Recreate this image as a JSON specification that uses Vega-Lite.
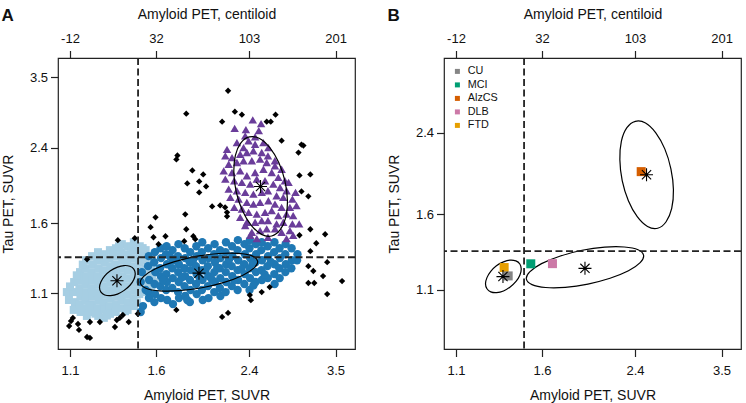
{
  "$schema": "https://vega.github.io/schema/vega-lite/v6.json",
  "padding": {"left": 0, "top": 5, "right": 0, "bottom": 0},
  "config": {
    "font": "Liberation Sans",
    "view": {"stroke": "#222", "strokeWidth": 1.2},
    "axis": {"labelFont": "Liberation Sans", "titleFont": "Liberation Sans", "labelFontSize": 13, "titleFontSize": 14, "labelColor": "#111", "titleColor": "#111", "tickColor": "#222", "tickSize": 7.5, "tickWidth": 1.2, "domain": false, "grid": false, "titleFontWeight": "normal", "labelFlush": false},
    "concat": {"spacing": 29}
  },
  "datasets": {
    "pts": [
      {"g":"L","x":1.085,"y":1.106},{"g":"L","x":1.095,"y":1.060},
      {"g":"L","x":1.120,"y":1.167},{"g":"L","x":1.115,"y":1.106},{"g":"L","x":1.124,"y":1.048},{"g":"L","x":1.118,"y":1.005},
      {"g":"L","x":1.149,"y":1.231},{"g":"L","x":1.153,"y":1.180},{"g":"L","x":1.146,"y":1.130},{"g":"L","x":1.151,"y":1.083},{"g":"L","x":1.147,"y":1.037},{"g":"L","x":1.152,"y":0.994},
      {"g":"L","x":1.180,"y":1.312},{"g":"L","x":1.176,"y":1.257},{"g":"L","x":1.183,"y":1.205},{"g":"L","x":1.178,"y":1.155},{"g":"L","x":1.182,"y":1.106},{"g":"L","x":1.177,"y":1.060},{"g":"L","x":1.181,"y":1.015},{"g":"L","x":1.184,"y":0.973},
      {"g":"L","x":1.211,"y":1.341},{"g":"L","x":1.215,"y":1.284},{"g":"L","x":1.208,"y":1.231},{"g":"L","x":1.213,"y":1.180},{"g":"L","x":1.209,"y":1.130},{"g":"L","x":1.214,"y":1.083},{"g":"L","x":1.210,"y":1.037},{"g":"L","x":1.206,"y":0.994},
      {"g":"L","x":1.243,"y":1.370},{"g":"L","x":1.239,"y":1.312},{"g":"L","x":1.246,"y":1.257},{"g":"L","x":1.241,"y":1.205},{"g":"L","x":1.245,"y":1.155},{"g":"L","x":1.240,"y":1.106},{"g":"L","x":1.247,"y":1.060},{"g":"L","x":1.242,"y":1.015},{"g":"L","x":1.244,"y":0.973},
      {"g":"L","x":1.276,"y":1.355},{"g":"L","x":1.280,"y":1.298},{"g":"L","x":1.272,"y":1.244},{"g":"L","x":1.278,"y":1.192},{"g":"L","x":1.274,"y":1.142},{"g":"L","x":1.279,"y":1.094},{"g":"L","x":1.273,"y":1.048},{"g":"L","x":1.277,"y":1.005},{"g":"L","x":1.275,"y":0.963},
      {"g":"L","x":1.309,"y":1.385},{"g":"L","x":1.305,"y":1.327},{"g":"L","x":1.312,"y":1.271},{"g":"L","x":1.307,"y":1.218},{"g":"L","x":1.311,"y":1.167},{"g":"L","x":1.306,"y":1.118},{"g":"L","x":1.313,"y":1.071},{"g":"L","x":1.308,"y":1.026},{"g":"L","x":1.310,"y":0.984},
      {"g":"L","x":1.344,"y":1.399},{"g":"L","x":1.348,"y":1.341},{"g":"L","x":1.340,"y":1.284},{"g":"L","x":1.346,"y":1.231},{"g":"L","x":1.342,"y":1.180},{"g":"L","x":1.347,"y":1.130},{"g":"L","x":1.341,"y":1.083},{"g":"L","x":1.345,"y":1.037},{"g":"L","x":1.343,"y":0.994},
      {"g":"L","x":1.379,"y":1.430},{"g":"L","x":1.375,"y":1.370},{"g":"L","x":1.382,"y":1.312},{"g":"L","x":1.377,"y":1.257},{"g":"L","x":1.381,"y":1.205},{"g":"L","x":1.376,"y":1.155},{"g":"L","x":1.383,"y":1.106},{"g":"L","x":1.378,"y":1.060},{"g":"L","x":1.380,"y":1.015},
      {"g":"L","x":1.415,"y":1.414},{"g":"L","x":1.419,"y":1.355},{"g":"L","x":1.411,"y":1.298},{"g":"L","x":1.417,"y":1.244},{"g":"L","x":1.413,"y":1.192},{"g":"L","x":1.418,"y":1.142},{"g":"L","x":1.412,"y":1.094},{"g":"L","x":1.416,"y":1.048},{"g":"L","x":1.414,"y":1.005},
      {"g":"L","x":1.453,"y":1.445},{"g":"L","x":1.449,"y":1.385},{"g":"L","x":1.456,"y":1.327},{"g":"L","x":1.451,"y":1.271},{"g":"L","x":1.455,"y":1.218},{"g":"L","x":1.450,"y":1.167},{"g":"L","x":1.457,"y":1.118},{"g":"L","x":1.452,"y":1.071},{"g":"L","x":1.454,"y":1.026},
      {"g":"L","x":1.491,"y":1.414},{"g":"L","x":1.495,"y":1.355},{"g":"L","x":1.487,"y":1.298},{"g":"L","x":1.493,"y":1.244},{"g":"L","x":1.489,"y":1.192},{"g":"L","x":1.494,"y":1.142},{"g":"L","x":1.488,"y":1.094},
      {"g":"L","x":1.530,"y":1.385},{"g":"L","x":1.526,"y":1.312},{"g":"L","x":1.533,"y":1.257},{"g":"L","x":1.528,"y":1.205},{"g":"L","x":1.532,"y":1.155},{"g":"L","x":1.527,"y":1.106},
      {"g":"L","x":1.571,"y":1.284},{"g":"L","x":1.567,"y":1.231},{"g":"L","x":1.574,"y":1.180},{"g":"L","x":1.569,"y":1.130},
      {"g":"L","x":1.611,"y":1.244},{"g":"L","x":1.607,"y":1.167},
      {"g":"L","x":1.163,"y":1.282},{"g":"L","x":1.196,"y":1.028},{"g":"L","x":1.229,"y":0.985},{"g":"L","x":1.262,"y":1.330},{"g":"L","x":1.292,"y":0.975},{"g":"L","x":1.327,"y":1.361},{"g":"L","x":1.362,"y":1.413},{"g":"L","x":1.398,"y":0.998},{"g":"L","x":1.436,"y":1.410},{"g":"L","x":1.472,"y":1.046},{"g":"L","x":1.510,"y":1.400},{"g":"L","x":1.548,"y":1.340},{"g":"L","x":1.100,"y":1.140},{"g":"L","x":1.133,"y":1.210},

      {"g":"M","x":1.497,"y":0.994},{"g":"M","x":1.512,"y":1.026},{"g":"M","x":1.505,"y":1.231},{"g":"M","x":1.497,"y":1.167},{"g":"M","x":1.530,"y":1.118},
      {"g":"M","x":1.550,"y":1.341},{"g":"M","x":1.546,"y":1.271},{"g":"M","x":1.553,"y":1.180},{"g":"M","x":1.548,"y":1.106},{"g":"M","x":1.552,"y":1.071},
      {"g":"M","x":1.592,"y":1.370},{"g":"M","x":1.588,"y":1.298},{"g":"M","x":1.595,"y":1.231},{"g":"M","x":1.590,"y":1.155},{"g":"M","x":1.594,"y":1.094},{"g":"M","x":1.589,"y":1.048},
      {"g":"M","x":1.632,"y":1.399},{"g":"M","x":1.636,"y":1.327},{"g":"M","x":1.629,"y":1.257},{"g":"M","x":1.634,"y":1.205},{"g":"M","x":1.630,"y":1.142},{"g":"M","x":1.635,"y":1.071},
      {"g":"M","x":1.676,"y":1.414},{"g":"M","x":1.672,"y":1.355},{"g":"M","x":1.679,"y":1.284},{"g":"M","x":1.674,"y":1.218},{"g":"M","x":1.678,"y":1.167},{"g":"M","x":1.673,"y":1.118},{"g":"M","x":1.680,"y":1.060},
      {"g":"M","x":1.720,"y":1.385},{"g":"M","x":1.724,"y":1.312},{"g":"M","x":1.717,"y":1.257},{"g":"M","x":1.722,"y":1.192},{"g":"M","x":1.718,"y":1.130},{"g":"M","x":1.723,"y":1.037},
      {"g":"M","x":1.765,"y":1.430},{"g":"M","x":1.761,"y":1.341},{"g":"M","x":1.768,"y":1.284},{"g":"M","x":1.763,"y":1.231},{"g":"M","x":1.767,"y":1.167},{"g":"M","x":1.762,"y":1.106},{"g":"M","x":1.769,"y":1.071},
      {"g":"M","x":1.814,"y":1.399},{"g":"M","x":1.818,"y":1.327},{"g":"M","x":1.811,"y":1.257},{"g":"M","x":1.816,"y":1.205},{"g":"M","x":1.812,"y":1.142},{"g":"M","x":1.817,"y":1.083},
      {"g":"M","x":1.858,"y":1.370},{"g":"M","x":1.854,"y":1.298},{"g":"M","x":1.861,"y":1.244},{"g":"M","x":1.856,"y":1.180},{"g":"M","x":1.860,"y":1.118},{"g":"M","x":1.855,"y":1.048},
      {"g":"M","x":1.908,"y":1.414},{"g":"M","x":1.912,"y":1.341},{"g":"M","x":1.905,"y":1.271},{"g":"M","x":1.910,"y":1.218},{"g":"M","x":1.906,"y":1.155},{"g":"M","x":1.911,"y":1.094},
      {"g":"M","x":1.958,"y":1.445},{"g":"M","x":1.954,"y":1.370},{"g":"M","x":1.961,"y":1.312},{"g":"M","x":1.956,"y":1.244},{"g":"M","x":1.960,"y":1.180},{"g":"M","x":1.955,"y":1.118},{"g":"M","x":1.962,"y":1.060},
      {"g":"M","x":2.009,"y":1.399},{"g":"M","x":2.013,"y":1.327},{"g":"M","x":2.006,"y":1.271},{"g":"M","x":2.011,"y":1.205},{"g":"M","x":2.007,"y":1.142},{"g":"M","x":2.012,"y":1.071},
      {"g":"M","x":2.066,"y":1.430},{"g":"M","x":2.062,"y":1.355},{"g":"M","x":2.069,"y":1.298},{"g":"M","x":2.064,"y":1.231},{"g":"M","x":2.068,"y":1.167},{"g":"M","x":2.063,"y":1.106},
      {"g":"M","x":2.116,"y":1.385},{"g":"M","x":2.120,"y":1.327},{"g":"M","x":2.113,"y":1.257},{"g":"M","x":2.118,"y":1.192},{"g":"M","x":2.114,"y":1.130},{"g":"M","x":2.119,"y":1.083},
      {"g":"M","x":2.171,"y":1.445},{"g":"M","x":2.167,"y":1.370},{"g":"M","x":2.174,"y":1.284},{"g":"M","x":2.169,"y":1.231},{"g":"M","x":2.173,"y":1.167},{"g":"M","x":2.168,"y":1.106},
      {"g":"M","x":2.229,"y":1.414},{"g":"M","x":2.233,"y":1.341},{"g":"M","x":2.226,"y":1.271},{"g":"M","x":2.231,"y":1.205},{"g":"M","x":2.227,"y":1.142},
      {"g":"M","x":2.287,"y":1.461},{"g":"M","x":2.283,"y":1.385},{"g":"M","x":2.290,"y":1.312},{"g":"M","x":2.285,"y":1.244},{"g":"M","x":2.289,"y":1.180},{"g":"M","x":2.284,"y":1.118},
      {"g":"M","x":2.354,"y":1.430},{"g":"M","x":2.358,"y":1.355},{"g":"M","x":2.351,"y":1.284},{"g":"M","x":2.356,"y":1.218},{"g":"M","x":2.352,"y":1.155},
      {"g":"M","x":2.409,"y":1.461},{"g":"M","x":2.405,"y":1.399},{"g":"M","x":2.412,"y":1.327},{"g":"M","x":2.407,"y":1.257},{"g":"M","x":2.411,"y":1.192},{"g":"M","x":2.406,"y":1.118},
      {"g":"M","x":2.472,"y":1.430},{"g":"M","x":2.476,"y":1.355},{"g":"M","x":2.469,"y":1.298},{"g":"M","x":2.474,"y":1.231},{"g":"M","x":2.470,"y":1.167},
      {"g":"M","x":2.537,"y":1.445},{"g":"M","x":2.533,"y":1.385},{"g":"M","x":2.540,"y":1.312},{"g":"M","x":2.535,"y":1.244},{"g":"M","x":2.539,"y":1.180},
      {"g":"M","x":2.604,"y":1.414},{"g":"M","x":2.608,"y":1.341},{"g":"M","x":2.601,"y":1.271},{"g":"M","x":2.606,"y":1.192},
      {"g":"M","x":2.682,"y":1.445},{"g":"M","x":2.678,"y":1.370},{"g":"M","x":2.685,"y":1.284},{"g":"M","x":2.680,"y":1.218},{"g":"M","x":2.684,"y":1.155},
      {"g":"M","x":2.742,"y":1.399},{"g":"M","x":2.746,"y":1.327},{"g":"M","x":2.739,"y":1.257},{"g":"M","x":2.744,"y":1.192},
      {"g":"M","x":2.815,"y":1.430},{"g":"M","x":2.811,"y":1.355},{"g":"M","x":2.818,"y":1.284},{"g":"M","x":2.813,"y":1.231},
      {"g":"M","x":2.890,"y":1.399},{"g":"M","x":2.894,"y":1.312},{"g":"M","x":2.887,"y":1.257},
      {"g":"M","x":2.965,"y":1.355},{"g":"M","x":2.960,"y":1.312},
      {"g":"M","x":2.447,"y":1.146},{"g":"M","x":1.834,"y":1.060},
      {"g":"M","x":1.700,"y":1.340},{"g":"M","x":1.790,"y":1.195},{"g":"M","x":1.880,"y":1.312},{"g":"M","x":1.985,"y":1.240},{"g":"M","x":2.090,"y":1.260},{"g":"M","x":2.200,"y":1.315},{"g":"M","x":2.320,"y":1.250},{"g":"M","x":2.440,"y":1.290},{"g":"M","x":2.570,"y":1.215},{"g":"M","x":2.640,"y":1.300},{"g":"M","x":2.040,"y":1.185},{"g":"M","x":1.935,"y":1.195},{"g":"M","x":1.650,"y":1.180},{"g":"M","x":2.250,"y":1.180},

      {"g":"P","x":2.255,"y":2.661},{"g":"P","x":2.440,"y":2.784},{"g":"P","x":2.530,"y":2.728},{"g":"P","x":2.361,"y":2.555},{"g":"P","x":2.465,"y":2.541},
      {"g":"P","x":2.277,"y":2.465},{"g":"P","x":2.181,"y":2.378},{"g":"P","x":2.344,"y":2.400},{"g":"P","x":2.396,"y":2.487},{"g":"P","x":2.465,"y":2.443},
      {"g":"P","x":2.556,"y":2.465},{"g":"P","x":2.612,"y":2.400},{"g":"P","x":2.165,"y":2.296},{"g":"P","x":2.229,"y":2.275},{"g":"P","x":2.310,"y":2.316},
      {"g":"P","x":2.378,"y":2.337},{"g":"P","x":2.447,"y":2.359},{"g":"P","x":2.537,"y":2.337},{"g":"P","x":2.607,"y":2.296},{"g":"P","x":2.687,"y":2.236},
      {"g":"P","x":2.197,"y":2.195},{"g":"P","x":2.277,"y":2.215},{"g":"P","x":2.344,"y":2.236},{"g":"P","x":2.430,"y":2.236},{"g":"P","x":2.519,"y":2.256},
      {"g":"P","x":2.593,"y":2.215},{"g":"P","x":2.688,"y":2.176},{"g":"P","x":2.767,"y":2.137},{"g":"P","x":2.150,"y":2.118},{"g":"P","x":2.229,"y":2.100},
      {"g":"P","x":2.310,"y":2.118},{"g":"P","x":2.378,"y":2.064},{"g":"P","x":2.465,"y":2.100},{"g":"P","x":2.556,"y":2.137},{"g":"P","x":2.650,"y":2.100},
      {"g":"P","x":2.727,"y":2.045},{"g":"P","x":2.807,"y":2.009},{"g":"P","x":2.165,"y":2.027},{"g":"P","x":2.251,"y":2.009},{"g":"P","x":2.327,"y":1.991},
      {"g":"P","x":2.413,"y":1.973},{"g":"P","x":2.483,"y":2.027},{"g":"P","x":2.574,"y":2.009},{"g":"P","x":2.669,"y":1.973},{"g":"P","x":2.748,"y":1.938},
      {"g":"P","x":2.827,"y":1.904},{"g":"P","x":2.197,"y":1.921},{"g":"P","x":2.277,"y":1.904},{"g":"P","x":2.361,"y":1.887},{"g":"P","x":2.447,"y":1.870},
      {"g":"P","x":2.537,"y":1.887},{"g":"P","x":2.607,"y":1.904},{"g":"P","x":2.707,"y":1.854},{"g":"P","x":2.787,"y":1.838},{"g":"P","x":2.900,"y":1.821},
      {"g":"P","x":2.213,"y":1.838},{"g":"P","x":2.294,"y":1.821},{"g":"P","x":2.378,"y":1.789},{"g":"P","x":2.447,"y":1.773},{"g":"P","x":2.519,"y":1.789},
      {"g":"P","x":2.612,"y":1.805},{"g":"P","x":2.688,"y":1.773},{"g":"P","x":2.767,"y":1.742},{"g":"P","x":2.869,"y":1.742},{"g":"P","x":2.952,"y":1.758},
      {"g":"P","x":2.251,"y":1.742},{"g":"P","x":2.327,"y":1.727},{"g":"P","x":2.396,"y":1.696},{"g":"P","x":2.483,"y":1.680},{"g":"P","x":2.574,"y":1.696},
      {"g":"P","x":2.650,"y":1.711},{"g":"P","x":2.727,"y":1.666},{"g":"P","x":2.827,"y":1.680},{"g":"P","x":2.910,"y":1.666},{"g":"P","x":2.310,"y":1.651},
      {"g":"P","x":2.378,"y":1.608},{"g":"P","x":2.465,"y":1.608},{"g":"P","x":2.537,"y":1.622},{"g":"P","x":2.607,"y":1.622},{"g":"P","x":2.707,"y":1.594},
      {"g":"P","x":2.787,"y":1.608},{"g":"P","x":2.900,"y":1.594},{"g":"P","x":2.987,"y":1.594},{"g":"P","x":2.361,"y":1.580},{"g":"P","x":2.430,"y":1.524},
      {"g":"P","x":2.519,"y":1.538},{"g":"P","x":2.593,"y":1.552},{"g":"P","x":2.688,"y":1.552},{"g":"P","x":2.767,"y":1.524},{"g":"P","x":2.869,"y":1.538},
      {"g":"P","x":2.910,"y":1.499},{"g":"P","x":2.413,"y":1.499},{"g":"P","x":2.483,"y":1.473},{"g":"P","x":2.607,"y":1.484},{"g":"P","x":2.827,"y":1.473},
      {"g":"P","x":2.505,"y":2.628},{"g":"P","x":2.368,"y":2.642},{"g":"P","x":2.852,"y":1.991},{"g":"P","x":2.940,"y":1.887},

      {"g":"O","x":2.191,"y":3.255},{"g":"O","x":1.826,"y":2.878},{"g":"O","x":2.257,"y":2.910},{"g":"O","x":2.327,"y":2.863},{"g":"O","x":2.135,"y":2.758},
      {"g":"O","x":2.593,"y":2.758},{"g":"O","x":2.639,"y":2.758},{"g":"O","x":2.695,"y":2.863},{"g":"O","x":2.767,"y":2.491},{"g":"O","x":3.017,"y":2.439},
      {"g":"O","x":3.043,"y":2.426},{"g":"O","x":2.978,"y":2.337},{"g":"O","x":1.757,"y":2.300},{"g":"O","x":1.749,"y":2.252},{"g":"O","x":1.875,"y":2.123},
      {"g":"O","x":1.966,"y":2.078},{"g":"O","x":1.834,"y":1.980},{"g":"O","x":1.932,"y":2.002},{"g":"O","x":1.991,"y":1.949},{"g":"O","x":1.932,"y":1.887},
      {"g":"O","x":2.991,"y":2.067},{"g":"O","x":3.136,"y":2.078},{"g":"O","x":3.017,"y":1.897},{"g":"O","x":3.109,"y":1.848},{"g":"O","x":2.044,"y":1.751},
      {"g":"O","x":2.117,"y":1.760},{"g":"O","x":2.163,"y":1.742},{"g":"O","x":2.181,"y":1.696},{"g":"O","x":2.181,"y":1.660},{"g":"O","x":1.597,"y":1.651},
      {"g":"O","x":1.563,"y":1.566},{"g":"O","x":1.583,"y":1.484},{"g":"O","x":1.618,"y":1.430},{"g":"O","x":1.668,"y":1.492},{"g":"O","x":1.818,"y":1.678},
      {"g":"O","x":1.826,"y":1.549},{"g":"O","x":1.810,"y":1.453},{"g":"O","x":1.883,"y":1.492},{"g":"O","x":1.899,"y":1.469},{"g":"O","x":1.459,"y":1.476},
      {"g":"O","x":1.355,"y":1.461},{"g":"O","x":1.185,"y":1.319},{"g":"O","x":1.749,"y":1.005},{"g":"O","x":2.135,"y":0.968},{"g":"O","x":2.191,"y":0.989},
      {"g":"O","x":2.409,"y":1.088},{"g":"O","x":2.420,"y":1.059},{"g":"O","x":2.537,"y":1.106},{"g":"O","x":2.627,"y":1.136},{"g":"O","x":2.991,"y":1.500},
      {"g":"O","x":3.136,"y":1.549},{"g":"O","x":3.345,"y":1.508},{"g":"O","x":3.218,"y":1.437},{"g":"O","x":3.136,"y":1.377},{"g":"O","x":3.375,"y":1.298},
      {"g":"O","x":3.109,"y":1.271},{"g":"O","x":3.177,"y":1.238},{"g":"O","x":3.315,"y":1.205},{"g":"O","x":3.109,"y":1.161},{"g":"O","x":3.190,"y":1.161},
      {"g":"O","x":3.601,"y":1.173},{"g":"O","x":3.375,"y":1.094},{"g":"O","x":1.478,"y":0.984},{"g":"O","x":1.421,"y":0.942},{"g":"O","x":1.385,"y":0.978},
      {"g":"O","x":1.367,"y":0.963},{"g":"O","x":1.349,"y":0.952},{"g":"O","x":1.338,"y":0.917},{"g":"O","x":1.253,"y":0.942},{"g":"O","x":1.200,"y":0.942},
      {"g":"O","x":1.139,"y":0.932},{"g":"O","x":1.144,"y":0.903},{"g":"O","x":1.114,"y":0.963},{"g":"O","x":1.105,"y":0.947},{"g":"O","x":1.096,"y":0.922},
      {"g":"O","x":1.185,"y":0.869},{"g":"O","x":1.200,"y":0.865}
    ],
    "ell": [
      {"e":"L","i":0,"x":1.453,"y":1.251},{"e":"L","i":1,"x":1.462,"y":1.220},{"e":"L","i":2,"x":1.453,"y":1.183},{"e":"L","i":3,"x":1.429,"y":1.147},
      {"e":"L","i":4,"x":1.393,"y":1.116},{"e":"L","i":5,"x":1.353,"y":1.094},{"e":"L","i":6,"x":1.313,"y":1.085},{"e":"L","i":7,"x":1.280,"y":1.089},
      {"e":"L","i":8,"x":1.259,"y":1.106},{"e":"L","i":9,"x":1.251,"y":1.134},{"e":"L","i":10,"x":1.259,"y":1.169},{"e":"L","i":11,"x":1.280,"y":1.206},
      {"e":"L","i":12,"x":1.312,"y":1.240},{"e":"L","i":13,"x":1.353,"y":1.264},{"e":"L","i":14,"x":1.392,"y":1.275},{"e":"L","i":15,"x":1.428,"y":1.270},
      {"e":"M","i":0,"x":2.492,"y":1.305},{"e":"M","i":1,"x":2.455,"y":1.259},{"e":"M","i":2,"x":2.333,"y":1.209},{"e":"M","i":3,"x":2.153,"y":1.165},
      {"e":"M","i":4,"x":1.955,"y":1.132},{"e":"M","i":5,"x":1.771,"y":1.114},{"e":"M","i":6,"x":1.626,"y":1.113},{"e":"M","i":7,"x":1.532,"y":1.129},
      {"e":"M","i":8,"x":1.495,"y":1.161},{"e":"M","i":9,"x":1.517,"y":1.203},{"e":"M","i":10,"x":1.597,"y":1.253},{"e":"M","i":11,"x":1.729,"y":1.300},
      {"e":"M","i":12,"x":1.906,"y":1.339},{"e":"M","i":13,"x":2.104,"y":1.360},{"e":"M","i":14,"x":2.291,"y":1.361},{"e":"M","i":15,"x":2.432,"y":1.343},
      {"e":"P","i":0,"x":2.650,"y":1.494},{"e":"P","i":1,"x":2.749,"y":1.543},{"e":"P","i":2,"x":2.817,"y":1.648},{"e":"P","i":3,"x":2.838,"y":1.808},
      {"e":"P","i":4,"x":2.807,"y":2.007},{"e":"P","i":5,"x":2.733,"y":2.216},{"e":"P","i":6,"x":2.628,"y":2.400},{"e":"P","i":7,"x":2.513,"y":2.520},
      {"e":"P","i":8,"x":2.404,"y":2.541},{"e":"P","i":9,"x":2.317,"y":2.462},{"e":"P","i":10,"x":2.262,"y":2.303},{"e":"P","i":11,"x":2.247,"y":2.100},
      {"e":"P","i":12,"x":2.270,"y":1.892},{"e":"P","i":13,"x":2.332,"y":1.713},{"e":"P","i":14,"x":2.424,"y":1.582},{"e":"P","i":15,"x":2.535,"y":1.507}
    ],
    "stars": [
      {"e":"L","x":1.350,"y":1.175},{"e":"M","x":1.930,"y":1.224},{"e":"P","x":2.524,"y":1.948}
    ],
    "means": [
      {"grp":"FTD","x":1.357,"y":1.229},{"grp":"CU","x":1.381,"y":1.179},{"grp":"MCI","x":1.524,"y":1.252},{"grp":"DLB","x":1.675,"y":1.253},{"grp":"AlzCS","x":2.466,"y":1.979}
    ],
    "thr": [{"x":1.48,"y":1.333}]
  },
  "hconcat": [
    {
      "width": 297, "height": 291,
      "resolve": {"axis": {"x": "independent", "y": "shared"}},
      "layer": [
        {
          "data": {"name": "pts"},
          "transform": [{"filter": "datum.g == 'L'"}],
          "mark": {"type": "point", "shape": "square", "filled": true, "size": 64, "opacity": 1, "color": "#A6CEE3"},
          "encoding": {
            "x": {"field": "x", "type": "quantitative", "scale": {"type": "log", "domain": [1.044, 3.81], "nice": false},
                  "axis": {"orient": "bottom", "values": [1.1, 1.6, 2.4, 3.5], "format": ".1f", "title": "Amyloid PET, SUVR", "labelPadding": 8, "titleY": 50, "titleBaseline": "alphabetic"}},
            "y": {"field": "y", "type": "quantitative", "scale": {"type": "log", "domain": [0.815, 3.88], "nice": false},
                  "axis": {"orient": "left", "values": [1.1, 1.6, 2.4, 3.5], "format": ".1f", "title": "Tau PET, SUVR", "labelPadding": 3, "titleX": -43, "titleY": 145.5, "titleBaseline": "bottom"}}
          }
        },
        {
          "data": {"name": "pts"},
          "transform": [{"filter": "datum.g == 'M'"}],
          "mark": {"type": "point", "shape": "circle", "filled": true, "size": 70, "opacity": 1, "color": "#1F78B4"},
          "encoding": {
            "x": {"field": "x", "type": "quantitative", "scale": {"type": "log", "domain": [1.044, 3.81], "nice": false},
                  "axis": {"orient": "top", "values": [1.1, 1.6, 2.4, 3.5], "labelExpr": "datum.value < 1.3 ? '-12' : datum.value < 2 ? '32' : datum.value < 3 ? '103' : '201'", "title": "Amyloid PET, centiloid", "labelPadding": 5.5, "titleY": -39.5, "titleBaseline": "alphabetic"}},
            "y": {"field": "y", "type": "quantitative", "scale": {"type": "log", "domain": [0.815, 3.88], "nice": false},
                  "axis": {"orient": "left", "values": [1.1, 1.6, 2.4, 3.5], "format": ".1f", "title": "Tau PET, SUVR", "labelPadding": 3, "titleX": -43, "titleY": 145.5, "titleBaseline": "bottom"}}
          }
        },
        {
          "data": {"name": "pts"},
          "transform": [{"filter": "datum.g == 'P'"}],
          "mark": {"type": "point", "shape": "triangle-up", "filled": true, "size": 72, "opacity": 1, "color": "#6A3D9A"},
          "encoding": {
            "x": {"field": "x", "type": "quantitative", "scale": {"type": "log", "domain": [1.044, 3.81], "nice": false},
                  "axis": {"orient": "top", "values": [], "ticks": false, "labels": false, "title": "A", "titleX": -57, "titleY": -38, "titleAlign": "left", "titleBaseline": "alphabetic", "titleFontSize": 17, "titleFontWeight": "bold", "titleAngle": 0}},
            "y": {"field": "y", "type": "quantitative", "scale": {"type": "log", "domain": [0.815, 3.88], "nice": false},
                  "axis": {"orient": "left", "values": [1.1, 1.6, 2.4, 3.5], "format": ".1f", "title": "Tau PET, SUVR", "labelPadding": 3, "titleX": -43, "titleY": 145.5, "titleBaseline": "bottom"}}
          }
        },
        {
          "data": {"name": "pts"},
          "transform": [{"filter": "datum.g == 'O'"}],
          "mark": {"type": "point", "shape": "diamond", "filled": true, "size": 40, "opacity": 1, "color": "#000000"},
          "encoding": {
            "x": {"field": "x", "type": "quantitative", "scale": {"type": "log", "domain": [1.044, 3.81], "nice": false}, "axis": null},
            "y": {"field": "y", "type": "quantitative", "scale": {"type": "log", "domain": [0.815, 3.88], "nice": false},
                  "axis": {"orient": "left", "values": [1.1, 1.6, 2.4, 3.5], "format": ".1f", "title": "Tau PET, SUVR", "labelPadding": 3, "titleX": -43, "titleY": 145.5, "titleBaseline": "bottom"}}
          }
        },
        {
          "data": {"name": "ell"},
          "mark": {"type": "line", "interpolate": "cardinal-closed", "color": "#000000", "strokeWidth": 1.2},
          "encoding": {
            "x": {"field": "x", "type": "quantitative", "scale": {"type": "log", "domain": [1.044, 3.81], "nice": false}, "axis": null},
            "y": {"field": "y", "type": "quantitative", "scale": {"type": "log", "domain": [0.815, 3.88], "nice": false},
                  "axis": {"orient": "left", "values": [1.1, 1.6, 2.4, 3.5], "format": ".1f", "title": "Tau PET, SUVR", "labelPadding": 3, "titleX": -43, "titleY": 145.5, "titleBaseline": "bottom"}},
            "detail": {"field": "e"},
            "order": {"field": "i", "type": "quantitative"}
          }
        },
        {
          "data": {"name": "stars"},
          "mark": {"type": "point", "shape": "M-1,0L1,0M0,-1L0,1M-0.71,-0.71L0.71,0.71M-0.71,0.71L0.71,-0.71", "filled": false, "size": 169, "opacity": 1, "color": "#000000", "strokeWidth": 1.1},
          "encoding": {
            "x": {"field": "x", "type": "quantitative", "scale": {"type": "log", "domain": [1.044, 3.81], "nice": false}, "axis": null},
            "y": {"field": "y", "type": "quantitative", "scale": {"type": "log", "domain": [0.815, 3.88], "nice": false},
                  "axis": {"orient": "left", "values": [1.1, 1.6, 2.4, 3.5], "format": ".1f", "title": "Tau PET, SUVR", "labelPadding": 3, "titleX": -43, "titleY": 145.5, "titleBaseline": "bottom"}}
          }
        },
        {
          "data": {"name": "thr"},
          "mark": {"type": "rule", "color": "#222", "strokeWidth": 1.8, "strokeDash": [7, 3.5]},
          "encoding": {
            "x": {"field": "x", "type": "quantitative", "scale": {"type": "log", "domain": [1.044, 3.81], "nice": false}, "axis": null}
          }
        },
        {
          "data": {"name": "thr"},
          "mark": {"type": "rule", "color": "#222", "strokeWidth": 1.8, "strokeDash": [7, 3.5]},
          "encoding": {
            "y": {"field": "y", "type": "quantitative", "scale": {"type": "log", "domain": [0.815, 3.88], "nice": false},
                  "axis": {"orient": "left", "values": [1.1, 1.6, 2.4, 3.5], "format": ".1f", "title": "Tau PET, SUVR", "labelPadding": 3, "titleX": -43, "titleY": 145.5, "titleBaseline": "bottom"}}
          }
        }
      ]
    },
    {
      "width": 297, "height": 291,
      "resolve": {"axis": {"x": "independent", "y": "shared"}},
      "layer": [
        {
          "data": {"name": "ell"},
          "mark": {"type": "line", "interpolate": "cardinal-closed", "color": "#000000", "strokeWidth": 1.2},
          "encoding": {
            "x": {"field": "x", "type": "quantitative", "scale": {"type": "log", "domain": [1.044, 3.81], "nice": false},
                  "axis": {"orient": "bottom", "values": [1.1, 1.6, 2.4, 3.5], "format": ".1f", "title": "Amyloid PET, SUVR", "labelPadding": 8, "titleY": 50, "titleBaseline": "alphabetic"}},
            "y": {"field": "y", "type": "quantitative", "scale": {"type": "log", "domain": [0.82, 3.48], "nice": false},
                  "axis": {"orient": "left", "values": [1.1, 1.6, 2.4], "format": ".1f", "title": "Tau PET, SUVR", "labelPadding": 3, "titleX": -43, "titleY": 145.5, "titleBaseline": "bottom"}},
            "detail": {"field": "e"},
            "order": {"field": "i", "type": "quantitative"}
          }
        },
        {
          "data": {"name": "means"},
          "mark": {"type": "point", "shape": "square", "filled": true, "size": 81, "opacity": 1},
          "encoding": {
            "x": {"field": "x", "type": "quantitative", "scale": {"type": "log", "domain": [1.044, 3.81], "nice": false},
                  "axis": {"orient": "top", "values": [1.1, 1.6, 2.4, 3.5], "labelExpr": "datum.value < 1.3 ? '-12' : datum.value < 2 ? '32' : datum.value < 3 ? '103' : '201'", "title": "Amyloid PET, centiloid", "labelPadding": 5.5, "titleY": -39.5, "titleBaseline": "alphabetic"}},
            "y": {"field": "y", "type": "quantitative", "scale": {"type": "log", "domain": [0.82, 3.48], "nice": false},
                  "axis": {"orient": "left", "values": [1.1, 1.6, 2.4], "format": ".1f", "title": "Tau PET, SUVR", "labelPadding": 3, "titleX": -43, "titleY": 145.5, "titleBaseline": "bottom"}},
            "color": {"field": "grp", "type": "nominal",
                      "scale": {"domain": ["CU", "MCI", "AlzCS", "DLB", "FTD"], "range": ["#858585", "#009E73", "#D55E00", "#CC79A7", "#E69F00"]},
                      "legend": {"orient": "none", "legendX": 394, "legendY": 8, "title": null, "symbolType": "square", "symbolSize": 25, "symbolStrokeWidth": 0, "labelFontSize": 10.8, "labelFont": "Liberation Sans", "labelColor": "#111", "labelOffset": 5, "rowPadding": 1.5, "padding": 0}}
          }
        },
        {
          "data": {"name": "stars"},
          "mark": {"type": "point", "shape": "M-1,0L1,0M0,-1L0,1M-0.71,-0.71L0.71,0.71M-0.71,0.71L0.71,-0.71", "filled": false, "size": 169, "opacity": 1, "color": "#000000", "strokeWidth": 1.1},
          "encoding": {
            "x": {"field": "x", "type": "quantitative", "scale": {"type": "log", "domain": [1.044, 3.81], "nice": false},
                  "axis": {"orient": "top", "values": [], "ticks": false, "labels": false, "title": "B", "titleX": -57, "titleY": -38, "titleAlign": "left", "titleBaseline": "alphabetic", "titleFontSize": 17, "titleFontWeight": "bold", "titleAngle": 0}},
            "y": {"field": "y", "type": "quantitative", "scale": {"type": "log", "domain": [0.82, 3.48], "nice": false},
                  "axis": {"orient": "left", "values": [1.1, 1.6, 2.4], "format": ".1f", "title": "Tau PET, SUVR", "labelPadding": 3, "titleX": -43, "titleY": 145.5, "titleBaseline": "bottom"}}
          }
        },
        {
          "data": {"name": "thr"},
          "mark": {"type": "rule", "color": "#222", "strokeWidth": 1.8, "strokeDash": [7, 3.5]},
          "encoding": {
            "x": {"field": "x", "type": "quantitative", "scale": {"type": "log", "domain": [1.044, 3.81], "nice": false}, "axis": null}
          }
        },
        {
          "data": {"name": "thr"},
          "mark": {"type": "rule", "color": "#222", "strokeWidth": 1.8, "strokeDash": [7, 3.5]},
          "encoding": {
            "y": {"field": "y", "type": "quantitative", "scale": {"type": "log", "domain": [0.82, 3.48], "nice": false},
                  "axis": {"orient": "left", "values": [1.1, 1.6, 2.4], "format": ".1f", "title": "Tau PET, SUVR", "labelPadding": 3, "titleX": -43, "titleY": 145.5, "titleBaseline": "bottom"}}
          }
        }
      ]
    }
  ]
}
